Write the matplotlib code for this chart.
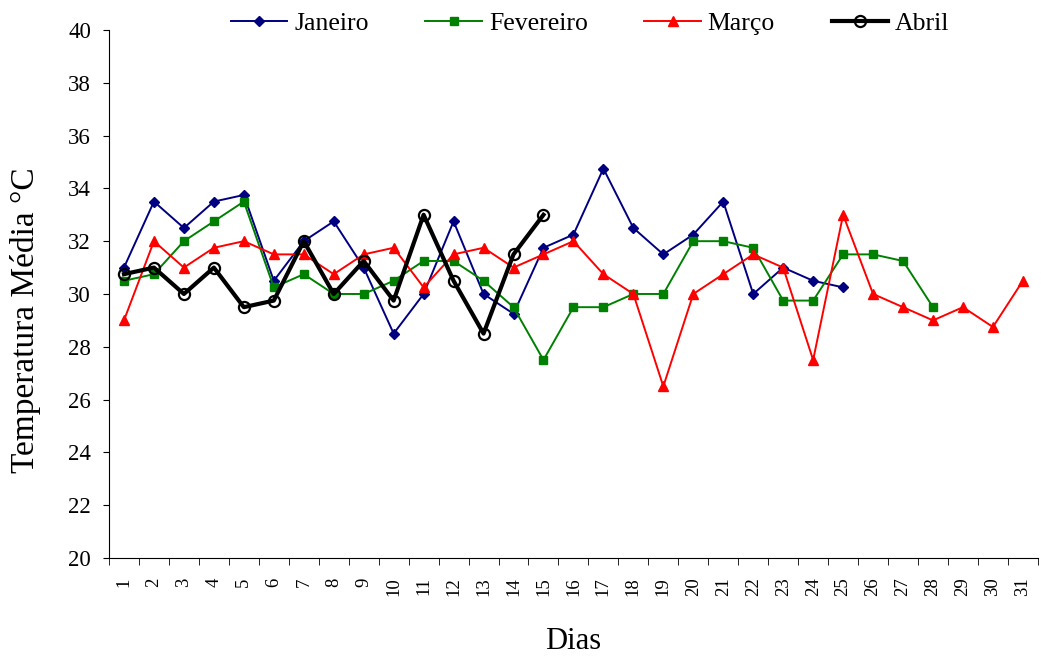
import numpy as np
import matplotlib
matplotlib.use("Agg")
import matplotlib.pyplot as plt

plt.rcParams['font.family'] = ['Liberation Serif', 'DejaVu Serif']

dias = list(range(1, 32))

janeiro = [31.0, 33.5, 32.5, 33.5, 33.75, 30.5, 32.0, 32.75, 31.0, 28.5,
           30.0, 32.75, 30.0, 29.25, 31.75, 32.25, 34.75, 32.5, 31.5, 32.25,
           33.5, 30.0, 31.0, 30.5, 30.25]
fevereiro = [30.5, 30.75, 32.0, 32.75, 33.5, 30.25, 30.75, 30.0, 30.0, 30.5,
             31.25, 31.25, 30.5, 29.5, 27.5, 29.5, 29.5, 30.0, 30.0, 32.0,
             32.0, 31.75, 29.75, 29.75, 31.5, 31.5, 31.25, 29.5]
marco = [29.0, 32.0, 31.0, 31.75, 32.0, 31.5, 31.5, 30.75, 31.5, 31.75,
         30.25, 31.5, 31.75, 31.0, 31.5, 32.0, 30.75, 30.0, 26.5, 30.0,
         30.75, 31.5, 31.0, 27.5, 33.0, 30.0, 29.5, 29.0, 29.5, 28.75,
         30.5]
abril = [30.75, 31.0, 30.0, 31.0, 29.5, 29.75, 32.0, 30.0, 31.25, 29.75,
         33.0, 30.5, 28.5, 31.5, 33.0]

fig = plt.figure(figsize=(10.41, 6.59), dpi=100)
ax = fig.add_axes([0.1047, 0.1533, 0.8923, 0.8012])

ax.plot(dias[:len(janeiro)], janeiro, color='#000080', lw=1.4, marker='D',
        ms=5, label='Janeiro')
ax.plot(dias[:len(fevereiro)], fevereiro, color='#008000', lw=1.4, marker='s',
        ms=5.5, label='Fevereiro')
ax.plot(dias[:len(marco)], marco, color='#ff0000', lw=1.4, marker='^',
        ms=7, label='Março')
ax.plot(dias[:len(abril)], abril, color='black', lw=3, marker='o',
        ms=8, mfc='none', mew=1.6, label='Abril')

ax.set_xlim(0.5, 31.5)
ax.set_ylim(20, 40)
ax.set_yticks(np.arange(20, 41, 2))
ax.set_xticks(dias)
ax.set_xticklabels([str(d) for d in dias], rotation=90)
# tick marks sit between the days, labels at the day centres
ax.set_xticks(np.arange(0.5, 32, 1), minor=True)
ax.tick_params(axis='x', which='major', length=0, pad=14, labelsize=13.5)
ax.tick_params(axis='x', which='minor', length=5, direction='out')
ax.tick_params(axis='y', length=4, direction='out', labelsize=16.5, pad=9)

for s in ['top', 'right']:
    ax.spines[s].set_visible(False)

ax.set_ylabel('Temperatura Média °C', fontsize=24)
ax.yaxis.set_label_coords(-0.073, 0.45)
ax.set_xlabel('Dias', fontsize=22, labelpad=22)

ax.legend(loc='center', bbox_to_anchor=(0.518, 1.012), ncol=4, frameon=False,
          fontsize=18.5, handlelength=2.2, columnspacing=2.2, handletextpad=0.27)

fig.savefig('out.png', dpi=100)
